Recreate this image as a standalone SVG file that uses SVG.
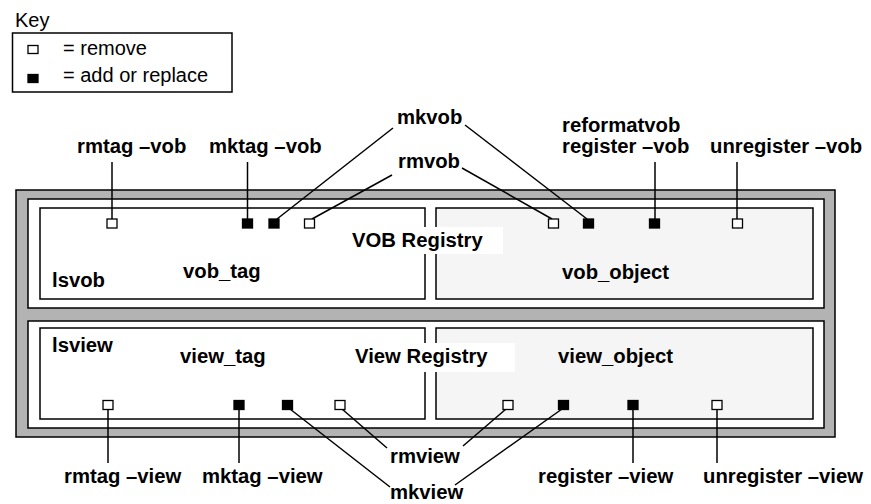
<svg xmlns="http://www.w3.org/2000/svg" width="871" height="504" viewBox="0 0 871 504">
<style>
text{font-family:"Liberation Sans",Arial,sans-serif;fill:#000}
.b{font-weight:bold;font-size:20.3px}
.r{font-size:20px}
.box{stroke:#000;stroke-width:1.5}
.c{stroke:#000;stroke-width:1.5;fill:none}
.o{fill:#fff;stroke:#000;stroke-width:1.3}
.f{fill:#000;stroke:#000;stroke-width:1.3}
</style>
<rect width="871" height="504" fill="#fff"/>
<g id="key">
<text class="r" x="15" y="27">Key</text>
<rect x="12.5" y="33" width="219.5" height="59" fill="#fff" class="box"/>
<rect class="o" x="28" y="45.5" width="10" height="8"/>
<rect class="f" x="28" y="74.5" width="10" height="8"/>
<text class="r" x="63" y="55">= remove</text>
<text class="r" x="63" y="82">= add or replace</text>
</g>
<g id="outer">
<rect x="16" y="190" width="819" height="247" fill="#b3b3b3" class="box"/>
</g>
<g id="vob-panel">
<rect x="28" y="199" width="796" height="109" fill="#fff" class="box"/>
</g>
<g id="view-panel">
<rect x="28" y="321" width="796" height="107" fill="#fff" class="box"/>
</g>
<g id="vob_tag">
<rect x="40" y="208" width="385" height="91" fill="#fff" class="box"/>
<text class="b" x="52" y="287">lsvob</text>
<text class="b" x="183" y="278">vob_tag</text>
</g>
<g id="vob_object">
<rect x="436" y="208" width="377" height="91" fill="#f5f5f5" class="box"/>
<text class="b" x="562" y="279">vob_object</text>
</g>
<g id="vob_registry">
<rect x="348" y="227" width="155" height="27" fill="#fff"/>
<text class="b" x="352" y="247">VOB Registry</text>
</g>
<g id="view_tag">
<rect x="40" y="328" width="385" height="91" fill="#fff" class="box"/>
<text class="b" x="52" y="352">lsview</text>
<text class="b" x="180" y="363">view_tag</text>
</g>
<g id="view_object">
<rect x="436" y="328" width="377" height="91" fill="#f5f5f5" class="box"/>
<text class="b" x="558" y="363">view_object</text>
</g>
<g id="view_registry">
<rect x="350" y="343" width="165" height="29" fill="#fff"/>
<text class="b" x="355" y="363">View Registry</text>
</g>
<g id="connectors">
<line class="c" x1="112" y1="162" x2="112" y2="219"/>
<line class="c" x1="247.5" y1="162" x2="247.5" y2="219"/>
<line class="c" x1="393" y1="128" x2="277" y2="219"/>
<line class="c" x1="392" y1="175" x2="312" y2="219"/>
<line class="c" x1="465" y1="125" x2="587" y2="219"/>
<line class="c" x1="462" y1="168" x2="552" y2="219"/>
<line class="c" x1="655" y1="162" x2="655" y2="219"/>
<line class="c" x1="737" y1="162" x2="737" y2="219"/>
<line class="c" x1="108" y1="409" x2="108" y2="463"/>
<line class="c" x1="239" y1="409" x2="239" y2="463"/>
<line class="c" x1="342" y1="409" x2="387" y2="448"/>
<line class="c" x1="290" y1="409" x2="390" y2="487"/>
<line class="c" x1="506" y1="409" x2="463" y2="446"/>
<line class="c" x1="562" y1="409" x2="455" y2="485"/>
<line class="c" x1="633" y1="409" x2="633" y2="463"/>
<line class="c" x1="717" y1="409" x2="717" y2="463"/>
</g>
<g id="ports">
<rect class="o" x="107" y="219" width="10" height="9"/>
<rect class="f" x="242.5" y="219" width="10" height="9"/>
<rect class="f" x="269" y="219" width="10" height="9"/>
<rect class="o" x="304.5" y="219" width="10" height="9"/>
<rect class="o" x="548.5" y="219" width="10" height="9"/>
<rect class="f" x="583.5" y="219" width="10" height="9"/>
<rect class="f" x="649.5" y="219" width="10" height="9"/>
<rect class="o" x="732.5" y="219" width="10" height="9"/>
<rect class="o" x="103" y="400.5" width="10" height="9"/>
<rect class="f" x="234" y="400.5" width="10" height="9"/>
<rect class="f" x="282.5" y="400.5" width="10" height="9"/>
<rect class="o" x="335" y="400.5" width="10" height="9"/>
<rect class="o" x="503" y="400.5" width="10" height="9"/>
<rect class="f" x="558.5" y="400.5" width="10" height="9"/>
<rect class="f" x="628" y="400.5" width="10" height="9"/>
<rect class="o" x="712" y="400.5" width="10" height="9"/>
</g>
<g id="labels">
<text class="b" x="77" y="153">rmtag –vob</text>
<text class="b" x="209" y="153">mktag –vob</text>
<text class="b" x="397" y="124">mkvob</text>
<text class="b" x="398" y="168">rmvob</text>
<text class="b" x="562" y="132">reformatvob</text>
<text class="b" x="562" y="153">register –vob</text>
<text class="b" x="710" y="153">unregister –vob</text>
<text class="b" x="64" y="483">rmtag –view</text>
<text class="b" x="202" y="483">mktag –view</text>
<text class="b" x="390" y="463">rmview</text>
<text class="b" x="390" y="499">mkview</text>
<text class="b" x="538" y="483">register –view</text>
<text class="b" x="703" y="483">unregister –view</text>
</g>
</svg>
